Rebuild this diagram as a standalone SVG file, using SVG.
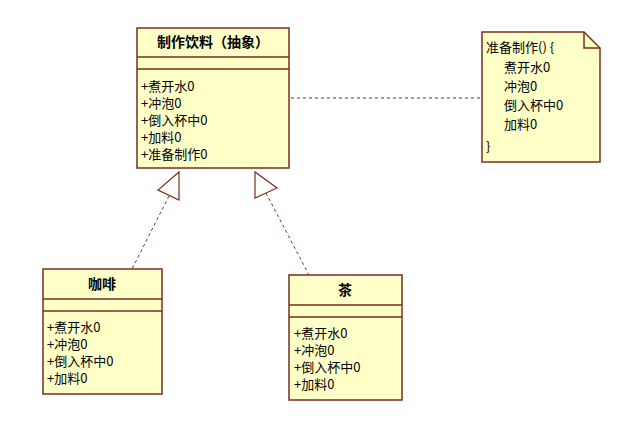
<svg xmlns="http://www.w3.org/2000/svg" width="632" height="424" viewBox="0 0 632 424">
<style>
.box{fill:#ffffc8;stroke:#7a2e1e;stroke-width:1.5}
.ln{stroke:#7a2e1e;stroke-width:1.5}
.t{font-family:"Noto Sans CJK SC","Liberation Sans",sans-serif;font-size:13px;fill:#000}
.b{font-weight:bold;text-anchor:middle;font-size:14px}
.c{fill:none;stroke:#7a2e1e;stroke-width:1;stroke-dasharray:3,3}
.tri{fill:#fff;stroke:#7a2e1e;stroke-width:1.2}
</style>
<rect width="632" height="424" fill="#fff"/>
<g id="connectors">
<line class="c" x1="291" y1="98" x2="482" y2="98"/>
<line class="c" x1="169" y1="196" x2="132" y2="269"/>
<line class="c" x1="266" y1="193" x2="309" y2="275"/>
<polygon class="tri" points="179,172 158,190 179,200"/>
<polygon class="tri" points="255,172 255,198 277,188"/>
</g>
<g id="abstract">
<rect class="box" x="137" y="28" width="152" height="140"/>
<line class="ln" x1="137" y1="57" x2="289" y2="57"/>
<line class="ln" x1="137" y1="69" x2="289" y2="69"/>
<text class="t b" x="213" y="47">制作饮料（抽象）</text>
<text class="t" x="141" y="91">+煮开水0</text>
<text class="t" x="141" y="108">+冲泡0</text>
<text class="t" x="141" y="125">+倒入杯中0</text>
<text class="t" x="141" y="142">+加料0</text>
<text class="t" x="141" y="159">+准备制作0</text>
</g>
<g id="note">
<path class="box" d="M482,32 H584 L600,48 V162 H482 Z"/>
<path class="ln" fill="none" d="M584,32 V48 H600"/>
<text class="t" x="486" y="52">准备制作() {</text>
<text class="t" x="504" y="72">煮开水0</text>
<text class="t" x="504" y="91">冲泡0</text>
<text class="t" x="504" y="110">倒入杯中0</text>
<text class="t" x="504" y="129">加料0</text>
<text class="t" x="486" y="151">}</text>
</g>
<g id="coffee">
<rect class="box" x="43" y="269" width="119" height="125"/>
<line class="ln" x1="43" y1="299" x2="162" y2="299"/>
<line class="ln" x1="43" y1="311" x2="162" y2="311"/>
<text class="t b" x="102" y="289">咖啡</text>
<text class="t" x="47" y="332">+煮开水0</text>
<text class="t" x="47" y="349">+冲泡0</text>
<text class="t" x="47" y="366">+倒入杯中0</text>
<text class="t" x="47" y="383">+加料0</text>
</g>
<g id="tea">
<rect class="box" x="289" y="275" width="113" height="125"/>
<line class="ln" x1="289" y1="305" x2="402" y2="305"/>
<line class="ln" x1="289" y1="317" x2="402" y2="317"/>
<text class="t b" x="345" y="295">茶</text>
<text class="t" x="294" y="338">+煮开水0</text>
<text class="t" x="294" y="355">+冲泡0</text>
<text class="t" x="294" y="372">+倒入杯中0</text>
<text class="t" x="294" y="389">+加料0</text>
</g>
</svg>
